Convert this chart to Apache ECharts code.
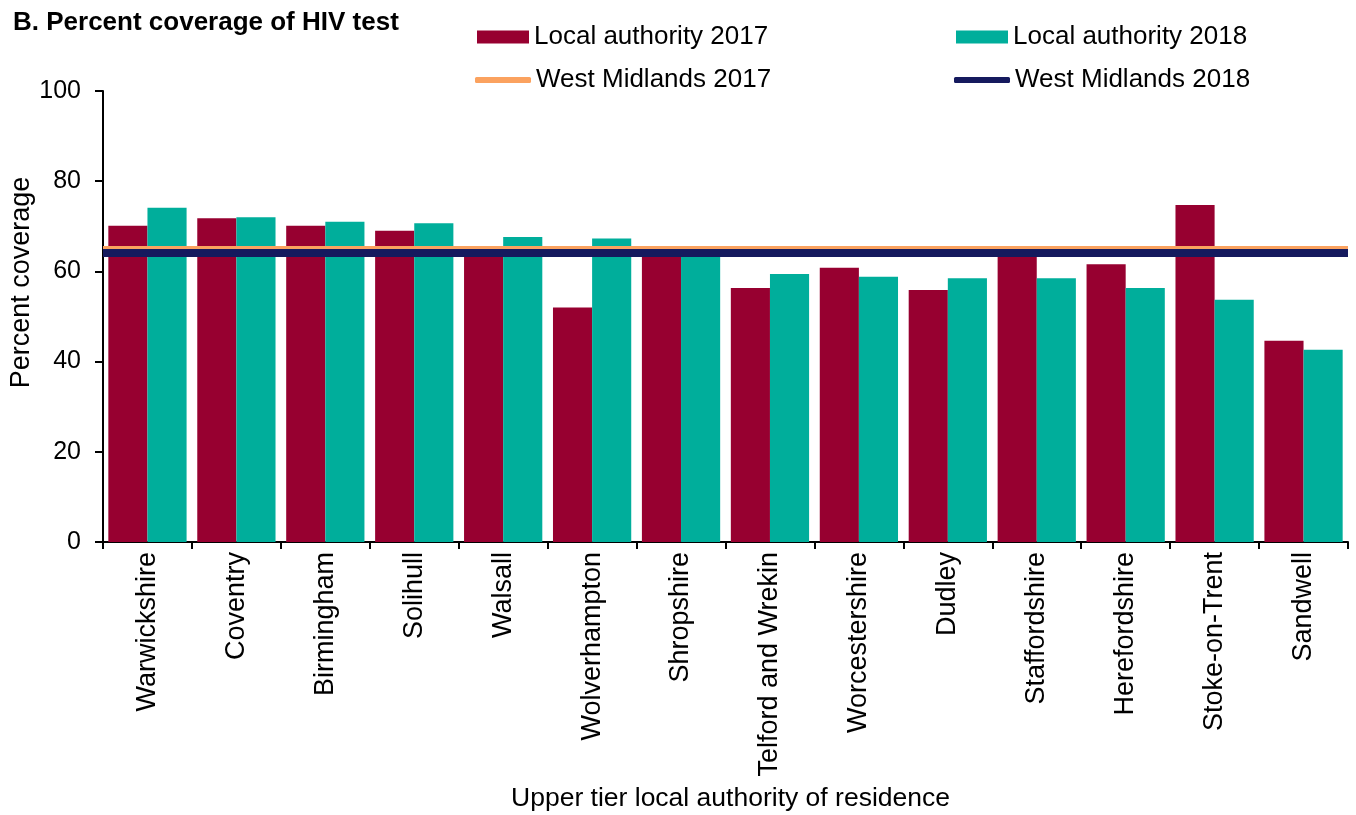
<!DOCTYPE html>
<html>
<head>
<meta charset="utf-8">
<script src="https://cdn.jsdelivr.net/npm/echarts@6/dist/echarts.min.js"></script>
<style>
html,body{margin:0;padding:0;background:#fff;}
#chart{width:1356px;height:815px;}
</style>
</head>
<body>
<div id="chart"></div>
<script>
const categories = ['Warwickshire','Coventry','Birmingham','Solihull','Walsall','Wolverhampton','Shropshire','Telford and Wrekin','Worcestershire','Dudley','Staffordshire','Herefordshire','Stoke-on-Trent','Sandwell'];
const la2017 = [70.1, 71.8, 70.1, 69.0, 64.5, 52.0, 64.2, 56.3, 60.8, 55.9, 64.2, 61.6, 74.7, 44.6];
const la2018 = [74.1, 72.0, 71.0, 70.7, 67.6, 67.3, 64.0, 59.4, 58.8, 58.5, 58.5, 56.3, 53.7, 42.6];
const wm2017 = 65.3;
const wm2018 = 64.1;
const yTicks = [0, 20, 40, 60, 80, 100];

const FONT = 'Liberation Sans, Arial, sans-serif';
const C_RED = '#970030', C_TEAL = '#00AE9B', C_ORANGE = '#FBA25F', C_NAVY = '#151A5E';

const chart = echarts.init(document.getElementById('chart'));
const legendBase = {
  orient: 'horizontal', itemGap: 0, padding: 0,
  textStyle: { fontFamily: FONT, fontSize: 26, color: '#000' },
  selectedMode: false
};
chart.setOption({
  animation: false,
  title: {
    text: 'B. Percent coverage of HIV test', left: 8, top: 5,
    textStyle: { fontFamily: FONT, fontSize: 26, fontWeight: 'bold', color: '#000' }
  },
  legend: [
    Object.assign({}, legendBase, { data: ['Local authority 2017'], left: 477, top: 24, icon: 'rect', itemWidth: 52, itemHeight: 13 }),
    Object.assign({}, legendBase, { data: ['Local authority 2018'], left: 956, top: 24, icon: 'rect', itemWidth: 52, itemHeight: 13 }),
    Object.assign({}, legendBase, { data: ['West Midlands 2017'], left: 475, top: 67, icon: 'roundRect', itemWidth: 56, itemHeight: 6 }),
    Object.assign({}, legendBase, { data: ['West Midlands 2018'], left: 954, top: 67, icon: 'roundRect', itemWidth: 56, itemHeight: 6 })
  ],
  grid: { left: 103, right: 8, top: 91, bottom: 273, containLabel: false, outerBoundsMode: 'none' },
  xAxis: {
    type: 'category', data: categories,
    name: 'Upper tier local authority of residence', nameLocation: 'middle', nameGap: 243,
    nameMoveOverlap: false,
    nameTextStyle: { fontFamily: FONT, fontSize: 26.5, color: '#000', padding: [0, 0, 0, 10] },
    axisLine: { lineStyle: { color: '#000', width: 2 } },
    axisTick: { show: true, length: 7, lineStyle: { color: '#000', width: 2 } },
    axisLabel: { rotate: 90, margin: 10, fontFamily: FONT, fontSize: 27, color: '#000', interval: 0 },
    splitLine: { show: false }
  },
  yAxis: {
    type: 'value', min: yTicks[0], max: yTicks[yTicks.length - 1], interval: yTicks[1] - yTicks[0],
    name: 'Percent coverage', nameLocation: 'middle', nameGap: 68, nameRotate: 90,
    nameMoveOverlap: false,
    nameTextStyle: { fontFamily: FONT, fontSize: 27, color: '#000', padding: [0, 0, 0, 68] },
    axisLine: { show: true, lineStyle: { color: '#000', width: 2 } },
    axisTick: { show: true, length: 8, lineStyle: { color: '#000', width: 2 } },
    axisLabel: { margin: 22, fontFamily: FONT, fontSize: 25, color: '#000' },
    splitLine: { show: false }
  },
  series: [
    { name: 'Local authority 2017', type: 'bar', data: la2017, barGap: '0%', barCategoryGap: '12%',
      itemStyle: { color: C_RED } },
    { name: 'Local authority 2018', type: 'bar', data: la2018, barGap: '0%', barCategoryGap: '12%',
      itemStyle: { color: C_TEAL } },
    { name: 'West Midlands 2018', type: 'line', data: [], itemStyle: { color: C_NAVY }, lineStyle: { color: C_NAVY },
      markLine: { silent: true, symbol: 'none', label: { show: false },
        lineStyle: { color: C_NAVY, width: 8, type: 'solid' }, data: [{ yAxis: wm2018 }] } },
    { name: 'West Midlands 2017', type: 'line', data: [], itemStyle: { color: C_ORANGE }, lineStyle: { color: C_ORANGE },
      markLine: { silent: true, symbol: 'none', label: { show: false },
        lineStyle: { color: C_ORANGE, width: 3, type: 'solid' }, data: [{ yAxis: wm2017 }] } }
  ]
});
</script>
</body>
</html>
